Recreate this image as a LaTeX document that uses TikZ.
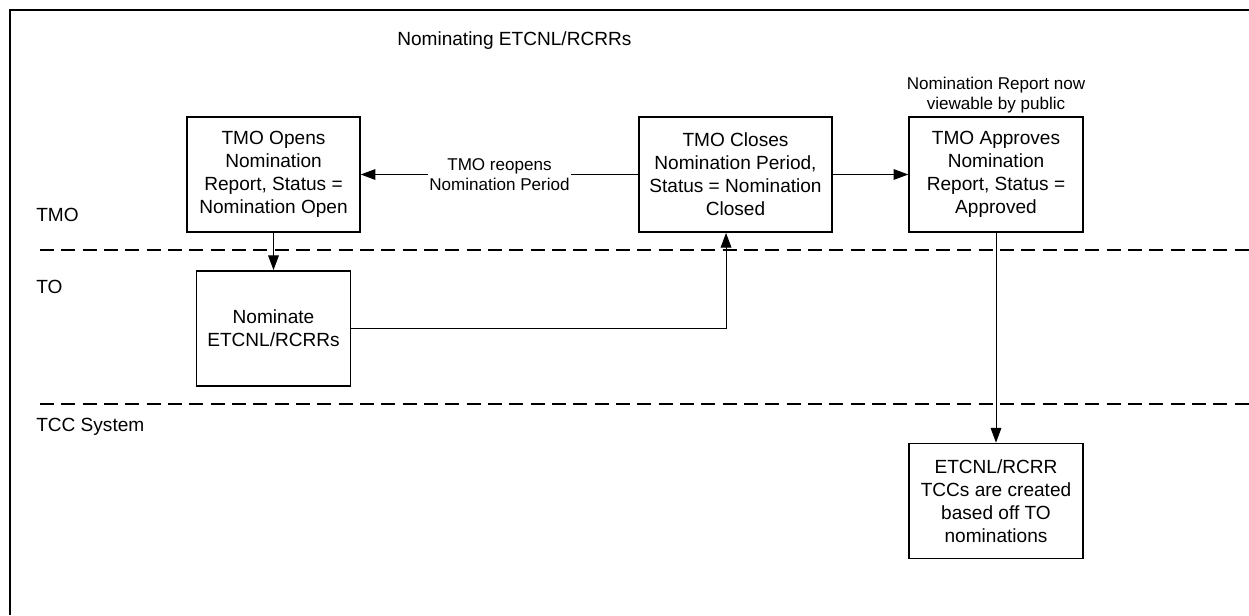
\documentclass[tikz,border=0pt]{standalone}
\usepackage{fontspec}
\setmainfont{Liberation Sans}
\usetikzlibrary{arrows.meta}

\begin{document}
\begin{tikzpicture}
  [x=0.75pt,y=-0.75pt,
   every node/.style={font=\fontsize{14.3}{17.3}\selectfont},
   stepbox/.style={draw,line width=1.1pt,align=center,minimum height=86.5pt,inner sep=2pt},
   lane/.style={anchor=west,inner sep=0pt},
   small/.style={font=\fontsize{12.8}{14.5}\selectfont,align=center},
   flow/.style={-{Triangle[length=11pt,width=8pt]},line width=0.75pt},
   sep/.style={dash pattern=on 10.5pt off 5.5pt,line width=1.5pt}]
\useasboundingbox (0,0) rectangle (1249,615);
\draw[line width=2.2pt] (1249,10) -- (10,10) -- (10,615);

\node (title)[lane] at (397,41) {Nominating ETCNL/RCRRs};
  \node (tmo)[lane] at (36,215) {TMO};
  \node (to)[lane] at (36,287) {TO};
  \node (tcc)[lane] at (36,427) {TCC System};

\coordinate (s1w) at (40,250);
  \coordinate (s1e) at (1249,250);
  \coordinate (s2w) at (40,404);
  \coordinate (s2e) at (1249,404);
 \foreach \from/\to in {s1w/s1e,s2w/s2e}
    \draw[sep] (\from) -- (\to);

\node (opens)[stepbox,minimum width=129.75pt] at (273.5,174.5) {TMO Opens\\Nomination\\Report, Status =\\Nomination Open};
  \node (closes)[stepbox,minimum width=144.75pt] at (735.5,174.5) {TMO Closes\\Nomination Period,\\Status = Nomination\\Closed};
  \node (approves)[stepbox,minimum width=130.5pt] at (996,174.5) {TMO Approves\\Nomination\\Report, Status =\\Approved};
  \node (nom)[stepbox,minimum width=115.5pt] at (273.5,328.5) {Nominate\\ETCNL/RCRRs};
  \node (tccs)[stepbox,minimum width=130.5pt] at (996,501) {ETCNL/RCRR\\TCCs are created\\based off TO\\nominations};
  \node (note)[small] at (996,95) {Nomination Report now\\viewable by public};

 \foreach \from/\to in {closes/approves,opens/nom,approves/tccs}
    \draw[flow] (\from) -- (\to);
  \draw[flow] (closes) -- node[small,fill=white,inner sep=1pt] {TMO reopens\\Nomination Period} (opens);
  \draw[flow] (nom) -| ([xshift=-7.1pt]closes.south);

\end{tikzpicture}
\end{document}
